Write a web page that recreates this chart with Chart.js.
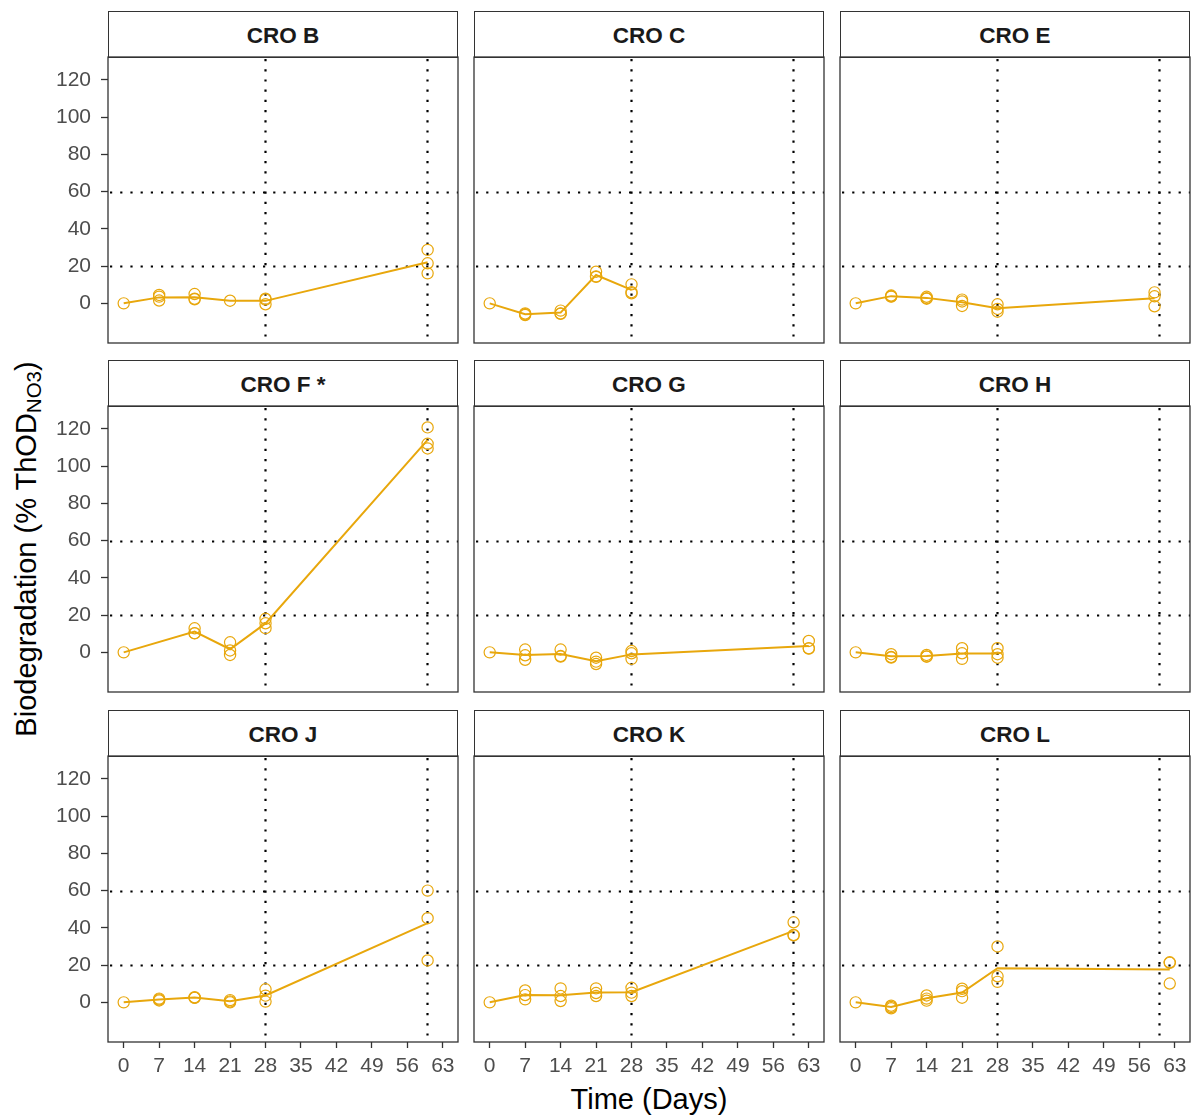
<!DOCTYPE html>
<html>
<head>
<meta charset="utf-8">
<title>Biodegradation by CRO</title>
<script src="https://cdn.jsdelivr.net/npm/chart.js@4.4.1/dist/chart.umd.min.js"></script>
<style>
  html, body { margin: 0; padding: 0; background: #fff; }
  body { width: 1193px; height: 1118px; position: relative; overflow: hidden;
         font-family: 'Liberation Sans', Arial, sans-serif; }
  .strip { position: absolute; box-sizing: border-box; border: 1.3px solid #333;
           background: #fff; color: #1a1a1a; font-weight: bold; font-size: 22.5px;
           text-align: center; }
  canvas { position: absolute; }
  .ytitle { position: absolute; left: 28px; top: 549px; transform: translate(-50%, -50%) rotate(-90deg);
            white-space: nowrap; font-size: 29px; color: #000; }
  .ytitle sub { font-size: 20.5px; vertical-align: -5px; }
  .xtitle { position: absolute; left: 108px; width: 1082px; top: 1082px; text-align: center;
            font-size: 29px; color: #000; line-height: 34px; }
</style>
</head>
<body>
<div class="ytitle">Biodegradation (% ThOD<sub>NO3</sub>)</div>
<div class="xtitle">Time (Days)</div>
<script>
// Panel titles, in reading order (3 x 3 grid)
const panelNames = ['CRO B', 'CRO C', 'CRO E', 'CRO F *', 'CRO G', 'CRO H', 'CRO J', 'CRO K', 'CRO L'];

// Each row: [day, replicate values (% ThOD NO3)...]
const croB = [[0, 0], [7, 4.5, 1.5, 3.6], [14, 5.0, 2.5, 2.2], [21, 1.4], [28, 2.5, 2.0, -0.5], [60, 28.7, 21.5, 16.1]];
const croC = [[0, 0], [7, -5.4, -6.3, -5.8], [14, -3.9, -5.4, -5.6], [21, 17.0, 14.5, 14.2], [28, 10.2, 5.4, 6.0]];
const croE = [[0, 0], [7, 4.2, 3.6, 3.8], [14, 3.5, 2.5, 2.8], [21, 2.0, -1.4, 1.0], [28, -0.5, -3.0, -4.5], [59, 5.9, 3.8, -1.6]];
const croF = [[0, 0], [14, 12.9, 10.2, 10.3], [21, 5.4, 1.0, -1.4], [28, 18.0, 15.6, 13.0], [60, 120.8, 112.0, 109.5]];
const croG = [[0, 0], [7, 1.5, -1.6, -4.0], [14, 1.5, -2.0, -2.3], [21, -2.9, -6.3, -5.0], [28, 0.7, -0.5, -3.5], [63, 6.1, 2.2, 2.0]];
const croH = [[0, 0], [7, -1.0, -2.5, -2.8], [14, -1.4, -2.3, -2.2], [21, 2.2, -0.5, -3.5], [28, 2.2, -1.0, -2.9]];
const croJ = [[0, 0], [7, 2.0, 1.0, 1.5], [14, 2.8, 2.4, 2.5], [21, 1.2, 0.0, 0.5], [28, 7.0, 3.6, 0.4], [60, 60.0, 45.2, 22.5]];
const croK = [[0, 0], [7, 6.4, 3.9, 1.6], [14, 7.5, 3.4, 0.7], [21, 7.5, 5.0, 3.4], [28, 7.8, 5.2, 3.4], [60, 43.0, 36.0, 36.2]];
const croL = [[0, 0], [7, -1.8, -2.5, -3.2], [14, 3.7, 0.9, 2.0], [21, 7.3, 6.0, 2.5], [28, 30.0, 14.0, 11.0], [62, 21.5, 21.2, 10.1]];
const panelData = [croB, croC, croE, croF, croG, croH, croJ, croK, croL];

// Axis ticks and reference thresholds
const xTicks = [0, 7, 14, 21, 28, 35, 42, 49, 56, 63];
const yTicks = [0, 20, 40, 60, 80, 100, 120];
const xRefLines = [28, 60];
const yRefLines = [20, 60];

const ORANGE = '#E8A70C';
const TICK_TEXT = '#4D4D4D';
const FRAME = '#333333';
const FONT = "'Liberation Sans', Arial, sans-serif";

// Layout of the facet grid
const colLeft = [108, 474, 840];
const rowTop = [57, 406, 756];
const panelW = 350, panelH = 286, stripH = 46.5;
const PAD = 24, YAXIS_W = 70, XAXIS_H = 52;

// Dotted reference lines behind the data, frame on top
const refLines = {
  id: 'refLines',
  beforeDatasetsDraw(chart) {
    const { ctx, chartArea: a, scales: { x, y } } = chart;
    ctx.save();
    ctx.strokeStyle = '#000';
    ctx.lineWidth = 2.2;
    ctx.setLineDash([2.2, 8]);
    yRefLines.forEach(v => {
      const py = Math.round(y.getPixelForValue(v)) + 0.5;
      ctx.beginPath(); ctx.moveTo(a.left + 2, py); ctx.lineTo(a.right, py); ctx.stroke();
    });
    xRefLines.forEach(v => {
      const px = Math.round(x.getPixelForValue(v)) - 0.5;
      ctx.beginPath(); ctx.moveTo(px, a.top + 2); ctx.lineTo(px, a.bottom); ctx.stroke();
    });
    ctx.restore();
  },
  afterDraw(chart) {
    const { ctx, chartArea: a } = chart;
    ctx.save();
    ctx.strokeStyle = FRAME;
    ctx.lineWidth = 1.3;
    ctx.strokeRect(a.left, a.top, a.right - a.left, a.bottom - a.top);
    ctx.restore();
  }
};

Chart.defaults.font.family = FONT;

panelData.forEach((rows, i) => {
  const r = Math.floor(i / 3), c = i % 3;
  const leftCol = c === 0, bottomRow = r === 2;

  // strip header
  const strip = document.createElement('div');
  strip.className = 'strip';
  strip.style.left = colLeft[c] + 'px';
  strip.style.top = (rowTop[r] - stripH) + 'px';
  strip.style.width = panelW + 'px';
  strip.style.height = (stripH + 1) + 'px';
  strip.style.lineHeight = (stripH + 2) + 'px';
  strip.textContent = panelNames[i];
  document.body.appendChild(strip);

  // canvas
  const w = panelW + 2 * PAD + (leftCol ? YAXIS_W : 0);
  const h = panelH + 2 * PAD + (bottomRow ? XAXIS_H : 0);
  const cv = document.createElement('canvas');
  cv.width = w; cv.height = h;
  cv.style.width = w + 'px'; cv.style.height = h + 'px';
  cv.style.left = (colLeft[c] - PAD - (leftCol ? YAXIS_W : 0)) + 'px';
  cv.style.top = (rowTop[r] - PAD) + 'px';
  document.body.appendChild(cv);

  const points = [];
  const means = [];
  rows.forEach(([day, ...vals]) => {
    vals.forEach(v => points.push({ x: day, y: v }));
    means.push({ x: day, y: vals.reduce((s, v) => s + v, 0) / vals.length });
  });

  new Chart(cv, {
    type: 'scatter',
    data: {
      datasets: [
        {
          type: 'scatter',
          data: points,
          pointStyle: 'circle',
          pointRadius: 5.6,
          pointBorderWidth: 1.2,
          pointBorderColor: ORANGE,
          pointBackgroundColor: 'rgba(0,0,0,0)',
          showLine: false
        },
        {
          type: 'line',
          data: means,
          borderColor: ORANGE,
          borderWidth: 2,
          pointRadius: 0,
          tension: 0,
          fill: false
        }
      ]
    },
    options: {
      responsive: false,
      animation: false,
      events: [],
      layout: { padding: PAD },
      plugins: { legend: { display: false }, tooltip: { enabled: false } },
      scales: {
        x: {
          type: 'linear',
          min: -3.1,
          max: 66,
          display: bottomRow,
          afterBuildTicks: s => { s.ticks = xTicks.map(v => ({ value: v })); },
          afterFit: s => { if (bottomRow) s.height = XAXIS_H; },
          ticks: { color: TICK_TEXT, font: { size: 21, family: FONT }, padding: 6, maxRotation: 0, autoSkip: false },
          grid: { drawOnChartArea: false, drawTicks: true, tickLength: 6, tickColor: FRAME, tickWidth: 1.3 },
          border: { display: false }
        },
        y: {
          type: 'linear',
          min: -21.3,
          max: 132.3,
          display: leftCol,
          afterBuildTicks: s => { s.ticks = yTicks.map(v => ({ value: v })); },
          afterFit: s => { if (leftCol) s.width = YAXIS_W; },
          ticks: { color: TICK_TEXT, font: { size: 21, family: FONT }, padding: 10, autoSkip: false },
          grid: { drawOnChartArea: false, drawTicks: true, tickLength: 7, tickColor: FRAME, tickWidth: 1.3 },
          border: { display: false }
        }
      }
    },
    plugins: [refLines]
  });
});
</script>
</body>
</html>
